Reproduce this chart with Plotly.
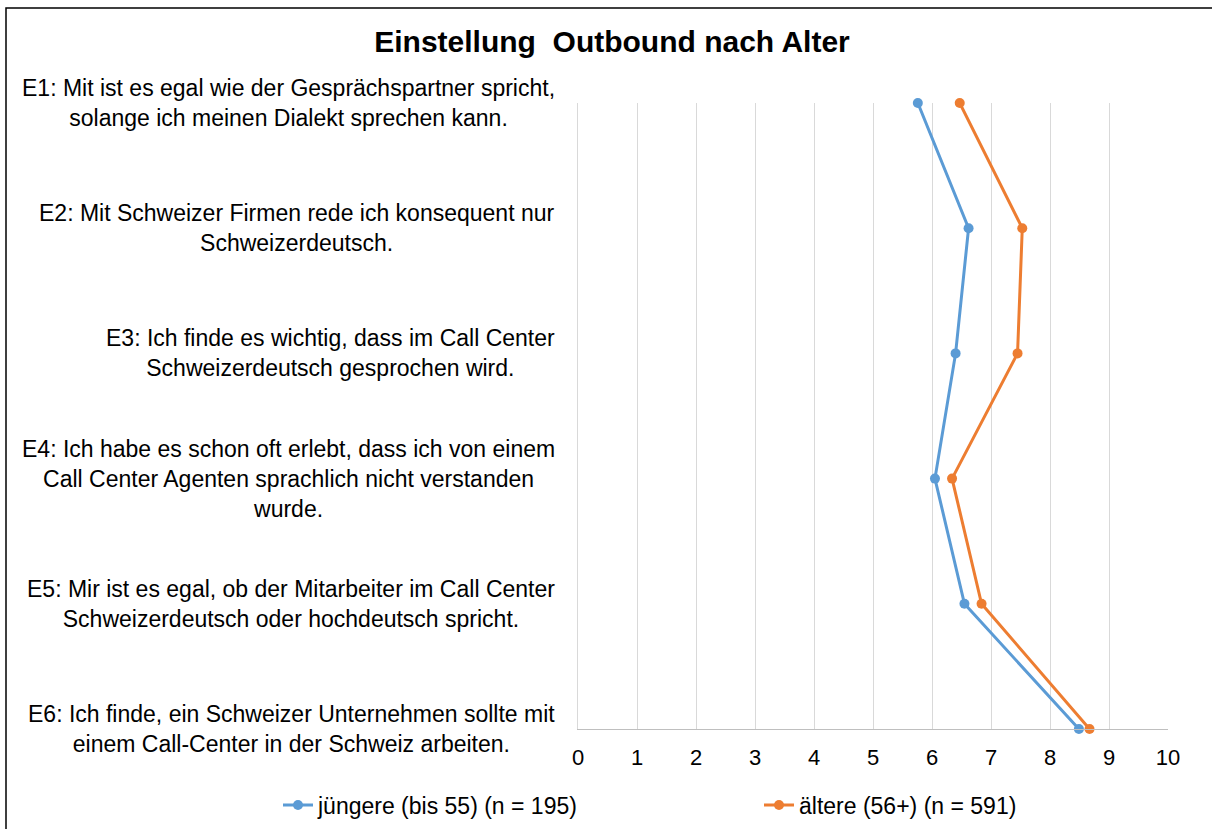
import plotly.graph_objects as go

# ---- data ----
codes = ["E1", "E2", "E3", "E4", "E5", "E6"]
labels = [
    "E1: Mit ist es egal wie der Gesprächspartner spricht,<br>solange ich meinen Dialekt sprechen kann.",
    "E2: Mit Schweizer Firmen rede ich konsequent nur<br>Schweizerdeutsch.",
    "E3: Ich finde es wichtig, dass im Call Center<br>Schweizerdeutsch gesprochen wird.",
    "E4: Ich habe es schon oft erlebt, dass ich von einem<br>Call Center Agenten sprachlich nicht verstanden<br>wurde.",
    "E5: Mir ist es egal, ob der Mitarbeiter im Call Center<br>Schweizerdeutsch oder hochdeutsch spricht.",
    "E6: Ich finde, ein Schweizer Unternehmen sollte mit<br>einem Call-Center in der Schweiz arbeiten.",
]
young_name = "jüngere (bis 55) (n = 195)"
old_name = "ältere (56+) (n = 591)"
young = [5.76, 6.62, 6.40, 6.05, 6.55, 8.49]
old = [6.47, 7.53, 7.45, 6.34, 6.84, 8.67]
x_ticks = list(range(0, 11))
title = "Einstellung\u00a0 Outbound nach Alter"

# ---- layout geometry (pixels) ----
W, H = 1212, 829
L, R, T, B = 578, 1168, 103, 729
def px(x):
    return (x - L) / (R - L)
def py(y):
    return (B - y) / (B - T)

FONT = "Liberation Sans, Arial, sans-serif"
BLUE = "#5B9BD5"
ORANGE = "#ED7D31"

fig = go.Figure()
fig.add_trace(go.Scatter(x=young, y=codes, name=young_name, mode="lines+markers",
                         line=dict(color=BLUE, width=3), marker=dict(size=10, color=BLUE),
                         cliponaxis=False))
fig.add_trace(go.Scatter(x=old, y=codes, name=old_name, mode="lines+markers",
                         line=dict(color=ORANGE, width=3), marker=dict(size=10, color=ORANGE),
                         cliponaxis=False))

for c, lab in zip(codes, labels):
    fig.add_annotation(x=px(557), xref="paper", y=c, yref="y", text=lab,
                       xanchor="right", yanchor="middle", align="center",
                       showarrow=False, font=dict(family=FONT, size=23, color="#000000"))

fig.add_shape(type="rect", xref="paper", yref="paper",
              x0=px(6), x1=px(1216), y0=py(8), y1=py(840),
              line=dict(color="#000000", width=1.5), fillcolor="rgba(0,0,0,0)")

fig.update_layout(
    width=W, height=H,
    margin=dict(l=L, r=W - R, t=T, b=H - B, pad=0, autoexpand=False),
    paper_bgcolor="white", plot_bgcolor="white",
    font=dict(family=FONT, size=23, color="#000000"),
    title=dict(text="<b>" + title + "</b>", x=px(612), xanchor="center", xref="paper",
               y=1 - 41 / H, yanchor="middle", font=dict(family=FONT, size=30, color="#000000")),
    xaxis=dict(range=[0, 10], tickvals=x_ticks, ticktext=[str(v) for v in x_ticks],
               showgrid=True, gridcolor="#D9D9D9", gridwidth=1.3,
               showline=True, linecolor="#BFBFBF", linewidth=1.3,
               zeroline=False, ticks="", ticklabelstandoff=8,
               tickfont=dict(family=FONT, size=22, color="#000000"), fixedrange=True),
    yaxis=dict(type="category", categoryorder="array", categoryarray=codes,
               range=[len(codes) - 1, 0], showticklabels=False, showgrid=False,
               showline=True, linecolor="#D9D9D9", linewidth=1.3, zeroline=False, ticks=""),
    legend=dict(orientation="h", x=px(278), xanchor="left", y=py(805), yanchor="middle",
                font=dict(family=FONT, size=23, color="#000000"),
                entrywidth=436, entrywidthmode="pixels", bgcolor="rgba(0,0,0,0)"),
    showlegend=True,
)

fig.write_html("out.html", config={"displayModeBar": False},
               post_script="document.body.style.margin='0px';")
